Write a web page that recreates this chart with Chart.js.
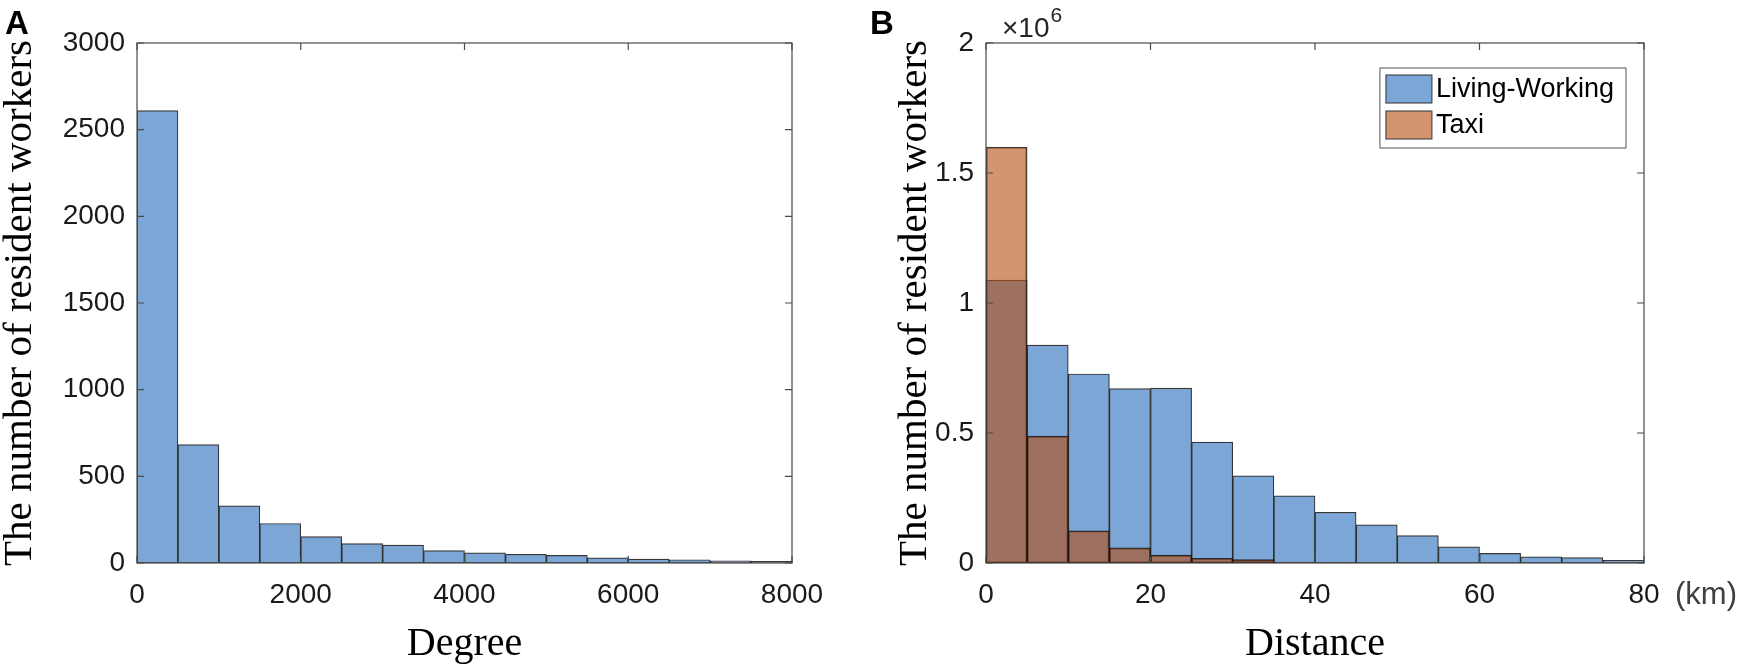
<!DOCTYPE html>
<html>
<head>
<meta charset="utf-8">
<script src="https://cdn.jsdelivr.net/npm/chart.js@4.4.1/dist/chart.umd.min.js"></script>
<style>
  html, body { margin: 0; padding: 0; background: #fff; }
  #wrap { position: relative; width: 1748px; height: 670px; overflow: hidden; }
  canvas { position: absolute; top: 0; }
  #degreeChart { left: 0; }
  #distanceChart { left: 860px; }
</style>
</head>
<body>
<div id="wrap">
  <canvas id="degreeChart" width="860" height="670"></canvas>
  <canvas id="distanceChart" width="888" height="670"></canvas>
</div>
<script>
// Panel A: degree histogram (bin starts, counts)
const degreeBins = [0, 500, 1000, 1500, 2000, 2500, 3000, 3500, 4000, 4500, 5000, 5500, 6000, 6500, 7000, 7500];
const degreeCounts = [2610, 683, 330, 228, 152, 112, 103, 72, 59, 50, 44, 30, 22, 19, 12, 9];
const degreeTicks = [0, 2000, 4000, 6000, 8000];
const degreeCountTicks = [0, 500, 1000, 1500, 2000, 2500, 3000];

// Panel B: distance histogram in km (bin starts, counts)
const distanceBins = [0, 5, 10, 15, 20, 25, 30, 35, 40, 45, 50, 55, 60, 65, 70, 75];
const livingWorking = [1088000, 838000, 727000, 671000, 673000, 465000, 335000, 258000, 195000, 147000, 105000, 62000, 37000, 24000, 21000, 10000];
const taxi = [1600000, 488000, 124000, 58000, 30000, 18000, 13000, 4000, 2000, 1000, 0, 0, 0, 0, 0, 0];
const distanceTicks = [0, 20, 40, 60, 80];
const distanceCountTicks = [0, 500000, 1000000, 1500000, 2000000];

const seriesNames = ["Living-Working", "Taxi"];

const blueFill = "#7ba6d6";
const orangeFill = "rgba(182, 77, 17, 0.6)";
const edgeColor = "rgba(20, 20, 20, 0.85)";
const tickFont = { family: "'Liberation Sans', Arial, sans-serif", size: 28 };
const titleFont = { family: "'Liberation Serif', 'Times New Roman', serif", size: 41, lineHeight: 1 };
const xTitleFont = { family: "'Liberation Serif', 'Times New Roman', serif", size: 40, lineHeight: 1 };

function toPoints(bins, values) {
  const width = bins[1] - bins[0];
  return bins.map((b, i) => ({ x: b + width / 2, y: values[i] }));
}

// box with inward ticks, panel letter, extra labels, in-axes legend
const matlabFrame = {
  id: "matlabFrame",
  afterDraw(chart, args, opts) {
    const { ctx, chartArea: a } = chart;
    const xs = chart.scales.x;
    const ys = chart.scales.y;
    ctx.save();

    ctx.strokeStyle = "#4a4a4a";
    ctx.lineWidth = 1.2;
    ctx.strokeRect(a.left, a.top, a.right - a.left, a.bottom - a.top);

    ctx.beginPath();
    xs.ticks.forEach(t => {
      const px = xs.getPixelForValue(t.value);
      ctx.moveTo(px, a.bottom);
      ctx.lineTo(px, a.bottom - 7);
      ctx.moveTo(px, a.top);
      ctx.lineTo(px, a.top + 7);
    });
    ys.ticks.forEach(t => {
      const py = ys.getPixelForValue(t.value);
      ctx.moveTo(a.left, py);
      ctx.lineTo(a.left + 7, py);
      ctx.moveTo(a.right, py);
      ctx.lineTo(a.right - 7, py);
    });
    ctx.stroke();

    ctx.fillStyle = "#000";
    ctx.textBaseline = "alphabetic";
    ctx.textAlign = "left";
    ctx.font = "bold 33px 'Liberation Sans', Arial, sans-serif";
    ctx.fillText(opts.letter, opts.letterX, 34);

    if (opts.exponent) {
      ctx.fillStyle = "#262626";
      ctx.font = "28px 'Liberation Sans', Arial, sans-serif";
      ctx.fillText("\u00d710", a.left + 16, 37);
      const w = ctx.measureText("\u00d710").width;
      ctx.font = "21px 'Liberation Sans', Arial, sans-serif";
      ctx.fillText(opts.exponent, a.left + 16 + w + 1, 22);
    }

    if (opts.unit) {
      ctx.fillStyle = "#404040";
      ctx.font = "31px 'Liberation Sans', Arial, sans-serif";
      ctx.fillText(opts.unit, a.right + 31, 604);
    }

    if (opts.legend) {
      const ds = chart.data.datasets;
      ctx.font = "27px 'Liberation Sans', Arial, sans-serif";
      const textW = Math.max(...ds.map(d => ctx.measureText(d.label).width));
      const rowH = 36;
      const boxW = 6 + 46 + 4 + textW + 12;
      const boxH = 8 + rowH * ds.length;
      const bx = a.right - 18 - boxW;
      const by = a.top + 25;
      ctx.fillStyle = "#fff";
      ctx.fillRect(bx, by, boxW, boxH);
      ctx.strokeStyle = "#555";
      ctx.lineWidth = 1;
      ctx.strokeRect(bx, by, boxW, boxH);
      ds.forEach((d, i) => {
        const sy = by + 7 + i * rowH;
        ctx.fillStyle = d.legendColor;
        ctx.fillRect(bx + 6, sy, 46, 28);
        ctx.strokeStyle = "#333";
        ctx.strokeRect(bx + 6, sy, 46, 28);
        ctx.fillStyle = "#000";
        ctx.textBaseline = "middle";
        ctx.fillText(d.label, bx + 56, sy + 15);
      });
    }
    ctx.restore();
  }
};

function histogramOptions(cfg) {
  return {
    responsive: false,
    animation: false,
    layout: { padding: { left: 0, top: 43, right: cfg.rightPad, bottom: 0 } },
    plugins: {
      legend: { display: false },
      tooltip: { enabled: false },
      matlabFrame: cfg.frame
    },
    scales: {
      x: {
        type: "linear",
        min: cfg.xTicks[0],
        max: cfg.xTicks[cfg.xTicks.length - 1],
        offset: false,
        grid: { display: false, drawTicks: false },
        border: { display: false },
        afterBuildTicks: s => { s.ticks = cfg.xTicks.map(v => ({ value: v })); },
        afterFit: s => { s.height = 107; },
        ticks: {
          font: tickFont,
          color: "#1a1a1a",
          padding: 15,
          maxRotation: 0,
          callback: v => String(v)
        },
        title: {
          display: true,
          text: cfg.xTitle,
          font: xTitleFont,
          color: "#000",
          padding: { top: 0, bottom: 6 }
        }
      },
      y: {
        min: cfg.yTicks[0],
        max: cfg.yTicks[cfg.yTicks.length - 1],
        grid: { display: false, drawTicks: false },
        border: { display: false },
        afterBuildTicks: s => { s.ticks = cfg.yTicks.map(v => ({ value: v })); },
        afterFit: s => { s.width = cfg.yWidth; },
        ticks: {
          font: tickFont,
          color: "#1a1a1a",
          padding: 12,
          callback: cfg.yLabel
        },
        title: {
          display: true,
          text: "The number of resident workers",
          font: titleFont,
          color: "#000",
          padding: { top: cfg.yTitlePad, bottom: 0 }
        }
      }
    }
  };
}

new Chart(document.getElementById("degreeChart"), {
  type: "bar",
  data: {
    datasets: [
      {
        label: "Degree",
        data: toPoints(degreeBins, degreeCounts),
        backgroundColor: blueFill,
        borderColor: edgeColor,
        borderWidth: 1.2,
        borderSkipped: false,
        barPercentage: 1,
        categoryPercentage: 1
      }
    ]
  },
  options: histogramOptions({
    rightPad: 68,
    yWidth: 137,
    yTitlePad: 0,
    xTicks: degreeTicks,
    yTicks: degreeCountTicks,
    xTitle: "Degree",
    yLabel: v => String(v),
    frame: { letter: "A", letterX: 5 }
  }),
  plugins: [matlabFrame]
});

new Chart(document.getElementById("distanceChart"), {
  type: "bar",
  data: {
    datasets: [
      {
        label: seriesNames[0],
        data: toPoints(distanceBins, livingWorking),
        backgroundColor: blueFill,
        legendColor: blueFill,
        borderColor: edgeColor,
        borderWidth: 1.2,
        borderSkipped: false,
        grouped: false,
        order: 1,
        barPercentage: 1,
        categoryPercentage: 1
      },
      {
        label: seriesNames[1],
        data: toPoints(distanceBins, taxi),
        backgroundColor: orangeFill,
        legendColor: "#d39470",
        borderColor: edgeColor,
        borderWidth: 1.2,
        borderSkipped: false,
        grouped: false,
        order: 0,
        barPercentage: 1,
        categoryPercentage: 1
      }
    ]
  },
  options: histogramOptions({
    rightPad: 104,
    yWidth: 126,
    yTitlePad: 35,
    xTicks: distanceTicks,
    yTicks: distanceCountTicks,
    xTitle: "Distance",
    yLabel: v => String(v / 1e6),
    frame: { letter: "B", letterX: 10, exponent: "6", unit: "(km)", legend: true }
  }),
  plugins: [matlabFrame]
});
</script>
</body>
</html>
